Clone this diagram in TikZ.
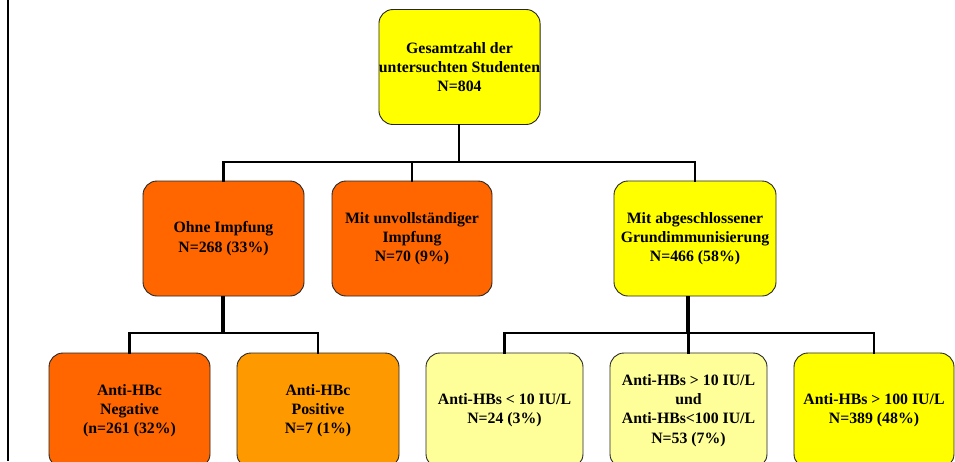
\documentclass[tikz,border=0pt]{standalone}
\usepackage{fontspec}
\setmainfont{Liberation Serif}
\definecolor{cYel}{HTML}{FFFF00}
\definecolor{cLYel}{HTML}{FFFF99}
\definecolor{cOra}{HTML}{FF6600}
\definecolor{cLOra}{HTML}{FF9900}
\begin{document}
\begin{tikzpicture}[x=1pt,y=-1pt,
  box/.style={draw=black!85, line width=0.9pt, rounded corners=14pt, minimum width=161pt, minimum height=115pt, inner sep=0pt, align=center, font=\fontsize{15.8}{19.3}\selectfont\bfseries},
  conn/.style={draw=black, line width=2.7pt, line join=miter, line cap=rect},
  connb/.style={draw=black, line width=4pt, line cap=butt}]
\useasboundingbox (0,0) rectangle (955,461);
\clip (0,0) rectangle (955,461);
\fill[white] (0,0) rectangle (955,461);
% left border line
\coordinate (lt) at (8.3,0);
\coordinate (lb) at (8.3,461);
\draw[line width=2pt] (lt) -- (lb);
% nodes
\node[box, fill=cYel] (top) at (459.5,67) {Gesamtzahl der\\untersuchten Studenten\\N=804};
\node[box, fill=cOra] (ohne) at (223.5,238.5) {Ohne Impfung\\N=268 (33\%)};
\node[box, fill=cOra, minimum width=160pt] (unv) at (412,238.5) {Mit unvollständiger\\Impfung\\N=70 (9\%)};
\node[box, fill=cYel, minimum width=162pt] (abg) at (695,238.5) {Mit abgeschlossener\\Grundimmunisierung\\N=466 (58\%)};
\node[box, fill=cOra] (neg) at (129.5,410.5) {Anti-HBc\\Negative\\(n=261 (32\%)};
\node[box, fill=cLOra, minimum width=162pt] (pos) at (318,410.5) {Anti-HBc\\Positive\\N=7 (1\%)};
\node[box, fill=cLYel, minimum width=157pt] (hb1) at (504.5,410.5) {Anti-HBs < 10 IU/L\\N=24 (3\%)};
\node[box, fill=cLYel, minimum width=157pt] (hb2) at (688.5,410.5) {Anti-HBs > 10 IU/L\\und\\Anti-HBs<100 IU/L\\N=53 (7\%)};
\node[box, fill=cYel, minimum width=160pt] (hb3) at (874,410.5) {Anti-HBs > 100 IU/L\\N=389 (48\%)};
% connectors level 1
\coordinate (b1) at (459,162);
\draw[conn] (top.south -| b1) -- (b1);
\draw[conn] (ohne.north) |- (abg.north |- b1) -- (abg.north);
\draw[conn] (unv.north) -- (unv.north |- b1);
% connectors level 2 left
\coordinate (b2) at (223,333);
\draw[connb] (ohne.south -| b2) -- (b2);
\draw[conn] (neg.north) |- (pos.north |- b2) -- (pos.north);
% connectors level 2 right
\coordinate (b3) at (688,333);
\draw[connb] (abg.south -| b3) -- (b3);
\draw[conn] (hb1.north) |- (hb3.north |- b3) -- (hb3.north);
\draw[conn] (hb2.north) -- (hb2.north |- b3);
\end{tikzpicture}
\end{document}
